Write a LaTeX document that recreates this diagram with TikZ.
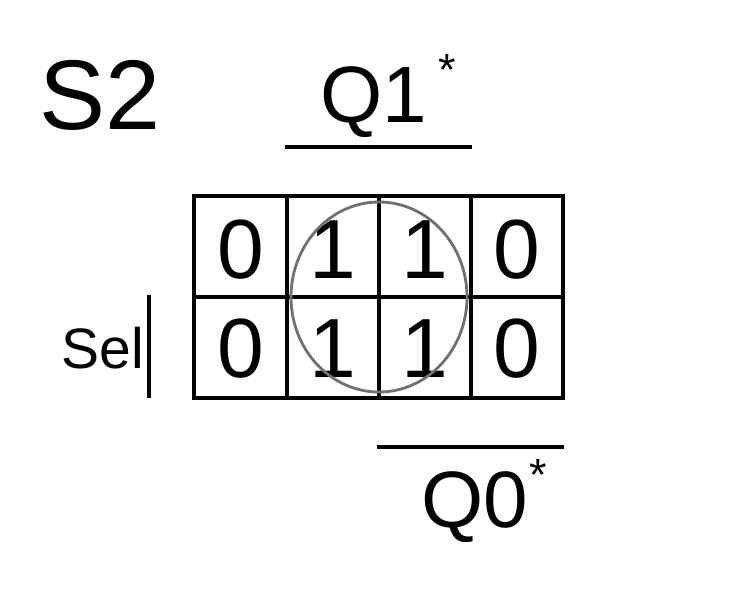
\documentclass[tikz,border=0pt]{standalone}
\usepackage{fontspec}
\setmainfont{Liberation Sans}
\begin{document}
\begin{tikzpicture}[x=1pt,y=-1pt,
  grid/.style={line width=3.4pt,line cap=rect},
  bar/.style={line width=3.4pt},
  cell/.style={inner sep=0pt,anchor=base,font=\fontsize{84}{84}\selectfont},
  big/.style={inner sep=0pt,anchor=base,font=\fontsize{80}{80}\selectfont},
  star/.style={inner sep=0pt,anchor=base,font=\fontsize{45}{45}\selectfont},
  loop/.style={draw=black!56,line width=2.8pt}]
\useasboundingbox (0,0) rectangle (735,590);
% titles
\node[inner sep=0pt,anchor=base,font=\fontsize{99}{99}\selectfont] (s2) at (100,129) {S2};
\node[big] (q1) at (374,122) {Q1};
\node[star] (q1s) at (447,85) {*};
\node[big] (q0) at (475,527) {Q0};
\node[star] (q0s) at (538,490) {*};
\node[inner sep=0pt,anchor=base,font=\fontsize{57}{57}\selectfont] (sel) at (103,368) {Sel};
% bars
\coordinate (b1a) at (285,147); \coordinate (b1b) at (472,147);
\coordinate (b2a) at (377,447); \coordinate (b2b) at (564,447);
\coordinate (b3a) at (149,295); \coordinate (b3b) at (149,398);
\draw[bar] (b1a) -- (b1b);
\draw[bar] (b2a) -- (b2b);
\draw[bar] (b3a) -- (b3b);
% grid
\draw[grid] (194,196) rectangle (563,398);
\draw[grid] (194,297) -- (563,297);
\draw[grid] (287,196) -- (287,398);
\draw[grid] (379,196) -- (379,398);
\draw[grid] (471,196) -- (471,398);
% cells
\node[cell] (c11) at (240.5,278) {0};
\node[cell] (c12) at (333,278) {1};
\node[cell] (c13) at (425,278) {1};
\node[cell] (c14) at (517,278) {0};
\node[cell] (c21) at (240.5,377) {0};
\node[cell] (c22) at (333,377) {1};
\node[cell] (c23) at (425,377) {1};
\node[cell] (c24) at (517,377) {0};
% loop
\draw[loop] (379,297) ellipse [x radius=88,y radius=95];
\end{tikzpicture}
\end{document}
